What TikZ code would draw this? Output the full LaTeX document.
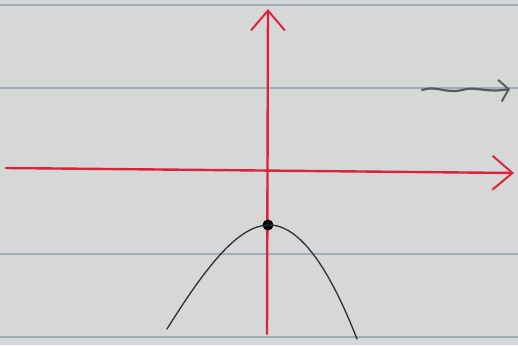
\documentclass[tikz,border=0pt]{standalone}
\usepackage{tikz}
\usetikzlibrary{arrows.meta}

\definecolor{paper}{RGB}{214,216,216}
\definecolor{rule}{RGB}{160,172,182}
\definecolor{pen}{RGB}{218,36,60}
\definecolor{ink}{RGB}{45,47,52}
\definecolor{pencil}{RGB}{88,90,92}

\tikzset{
    axis/.style={draw=pen, line width=2.4pt, line cap=round, -{Straight Barb[length=20pt, width=34pt, line width=2pt]}},
    ruled/.style={draw=rule, line width=1.2pt},
    curve/.style={draw=ink, line width=1.3pt, line cap=round},
    squiggle/.style={draw=pencil, line width=2.2pt, line cap=round, -{Straight Barb[length=9pt, width=22pt, line width=2pt]}}
}

\begin{document}
\begin{tikzpicture}[x=1pt, y=-1pt]
    % Paper
    \fill[paper] (0,0) rectangle (518,345);
    \useasboundingbox (0,0) rectangle (518,345);
    \foreach \y in {5,88,254,337} {
        \draw[ruled] (0,\y) -- (518,\y);
    }
    % Axes
    \coordinate (x-left) at (6,168);
    \coordinate (x-right) at (514,173);
    \coordinate (y-bottom) at (267,334);
    \coordinate (y-top) at (268,9);
    \draw[axis] (x-left) -- (x-right);
    \draw[axis] (y-bottom) -- (y-top);
    % Parabola
    \node[circle, fill=black, inner sep=0pt, minimum size=11pt] (Vertex) at (268,225) {};
    \coordinate (Left-end) at (167,329);
    \coordinate (Right-end) at (357,339);
    \draw[curve] (Left-end) .. controls (210,260) and (240,226) .. (Vertex.center)
        .. controls (300,224) and (330,270) .. (Right-end);
    % Wavy arrow
    \coordinate (Wave-start) at (422,90);
    \coordinate (Wave-end) at (510,89);
    \draw[squiggle] (Wave-start) .. controls (436,85) and (446,94) .. (462,90)
        .. controls (476,86) and (486,93) .. (Wave-end);
\end{tikzpicture}
\end{document}
